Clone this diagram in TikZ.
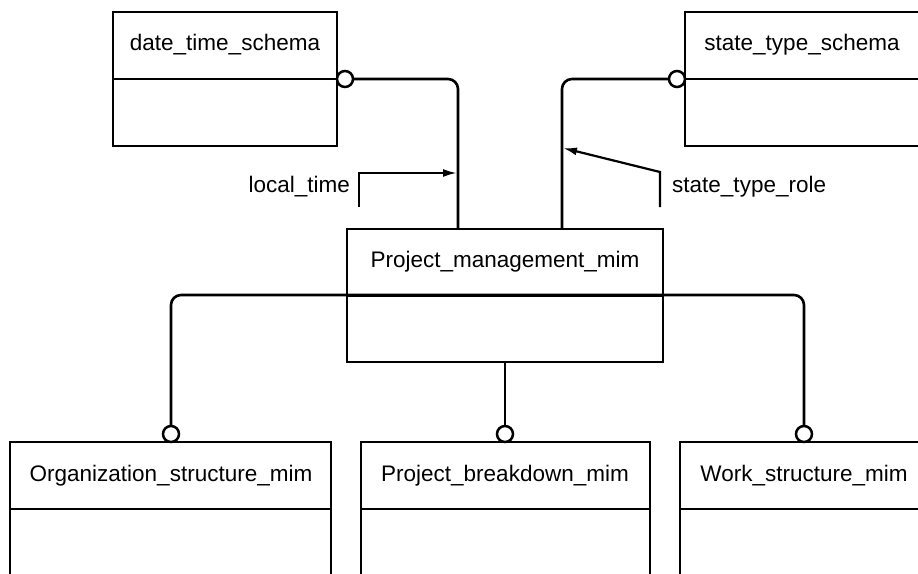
\documentclass[tikz,border=0pt]{standalone}
\usepackage{fontspec}
\setmainfont{Liberation Sans}
\usetikzlibrary{arrows.meta}
\tikzset{
  entity/.style={draw, line width=2.7pt, rectangle, anchor=north west, inner sep=0pt, outer sep=0pt},
  lbl/.style={font=\fontsize{22.5}{27}\selectfont, inner sep=0pt},
  ring/.style={draw, circle, line width=2.5pt, minimum size=16pt, inner sep=0pt, outer sep=0pt, fill=white},
  link/.style={line width=2.6pt, rounded corners=10pt},
  role/.style={line width=2.2pt, -{Latex[length=14pt,width=8pt]}},
  divider/.style={line width=2.7pt},
}
\begin{document}
\begin{tikzpicture}[x=1pt,y=-1pt]
\useasboundingbox (0,0) rectangle (918,573);
% boxes
\node[entity, minimum width=224pt, minimum height=134pt] (dts) at (113,12) {};
\node[entity, minimum width=240pt, minimum height=134pt] (sts) at (685,12) {};
\node[entity, minimum width=316pt, minimum height=133pt] (pm) at (347,229) {};
\node[entity, minimum width=321pt, minimum height=170pt] (org) at (10,442) {};
\node[entity, minimum width=289pt, minimum height=170pt] (pb) at (361,442) {};
\node[entity, minimum width=250pt, minimum height=170pt] (ws) at (680,442) {};
% dividers
\draw[divider] (dts.west |- 0,79) -- (dts.east |- 0,79);
\draw[divider] (sts.west |- 0,79) -- (sts.east |- 0,79);
\draw[divider] (pm.west |- 0,296) -- (pm.east |- 0,296);
\draw[divider] (org.west |- 0,509) -- (org.east |- 0,509);
\draw[divider] (pb.west |- 0,509) -- (pb.east |- 0,509);
\draw[divider] (ws.west |- 0,509) -- (ws.east |- 0,509);
% texts
\node[lbl] (dtst) at (225,45) {date\_time\_schema};
\node[lbl] (stst) at (802,45) {state\_type\_schema};
\node[lbl] (pmt) at (505,262) {Project\_management\_mim};
\node[lbl] (orgt) at (171,476) {Organization\_structure\_mim};
\node[lbl] (pbt) at (505,476) {Project\_breakdown\_mim};
\node[lbl] (wst) at (804,476) {Work\_structure\_mim};
% ring positions
\coordinate (r1) at (345,79);
\coordinate (r2) at (677,79);
\coordinate (r4) at (171,434);
\coordinate (r5) at (505,434);
\coordinate (r6) at (804,434);
% connection points
\coordinate (pmA) at (458,229);
\coordinate (pmB) at (562,229);
\coordinate (hl) at (171,295);
\coordinate (hr) at (804,295);
% connectors
\draw[link] (r1) -| (pmA);
\draw[link] (r2) -| (pmB);
\draw[link] (r4) -- (hl) -- (hr) -- (r6);
\draw[link] (pm.south) -- (pm.south |- r5);
% roles
\coordinate (lt) at (359,207);
\coordinate (ltend) at (457,173);
\coordinate (st) at (660,207);
\coordinate (stbend) at (660,172);
\coordinate (stend) at (563,148);
\draw[role] (lt) |- (ltend);
\draw[role] (st) -- (stbend) -- (stend);
\node[lbl, anchor=east] (ltl) at (350,187) {local\_time};
\node[lbl, anchor=west] (stl) at (672,187) {state\_type\_role};
% rings
\node[ring] (c1) at (r1) {};
\node[ring] (c2) at (r2) {};
\node[ring] (c4) at (r4) {};
\node[ring] (c5) at (r5) {};
\node[ring] (c6) at (r6) {};
\end{tikzpicture}
\end{document}
